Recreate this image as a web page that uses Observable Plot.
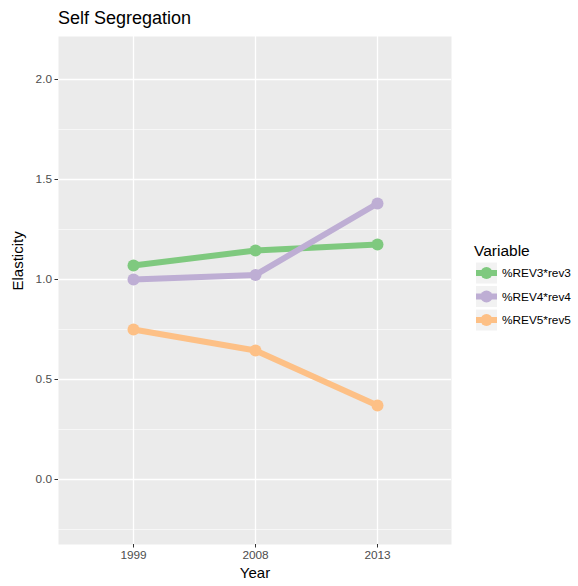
<!DOCTYPE html>
<html>
<head>
<meta charset="utf-8">
<script src="https://cdn.jsdelivr.net/npm/d3@7"></script>
<script src="https://cdn.jsdelivr.net/npm/@observablehq/plot@0.6"></script>
<style>
  body { margin: 0; background: #fff; font-family: "Liberation Sans", Arial, sans-serif; }
  #wrap { position: relative; width: 578px; height: 586px; }
  #title { position: absolute; left: 58px; top: 9px; font-size: 18px; line-height: 18px; color: #000; white-space: nowrap; }
  #legend { position: absolute; left: 0; top: 0; pointer-events: none; }
</style>
</head>
<body>
<div id="wrap">
  <div id="chart"></div>
  <div id="title">Self Segregation</div>
  <svg id="legend" width="578" height="586"></svg>
</div>
<script>
const years = ["1999", "2008", "2013"];
const seriesNames = ["%REV3*rev3", "%REV4*rev4", "%REV5*rev5"];
const rev3 = [1.07, 1.145, 1.175];
const rev4 = [1.0, 1.023, 1.38];
const rev5 = [0.75, 0.645, 0.37];
const colors = ["#7fc97f", "#beaed4", "#fdc086"];
const yTicks = [0, 0.5, 1.0, 1.5, 2.0];
const yMinor = [-0.25, 0.25, 0.75, 1.25, 1.75];

const allSeries = [rev3, rev4, rev5];
const data = [];
seriesNames.forEach((s, i) => years.forEach((y, j) => data.push({series: s, year: y, value: allSeries[i][j]})));

const chart = Plot.plot({
  width: 578,
  height: 586,
  marginLeft: 58,
  marginRight: 127,
  marginTop: 36,
  marginBottom: 42,
  style: {fontFamily: "Liberation Sans, Arial, sans-serif", fontSize: "11.8px", background: "transparent"},
  x: {type: "point", domain: years, padding: 0.6, label: null},
  y: {domain: [-0.325, 2.215], label: null},
  color: {domain: seriesNames, range: colors},
  marks: [
    Plot.frame({fill: "#ebebeb", stroke: null}),
    Plot.ruleY(yMinor, {stroke: "#fff", strokeWidth: 0.6}),
    Plot.ruleY(yTicks, {stroke: "#fff", strokeWidth: 1.3}),
    Plot.ruleX(years, {stroke: "#fff", strokeWidth: 1.3}),
    Plot.line(data, {x: "year", y: "value", stroke: "series", z: "series", strokeWidth: 6, strokeLinecap: "butt"}),
    Plot.dot(data, {x: "year", y: "value", fill: "series", r: 6, stroke: null}),
    Plot.axisY({ticks: yTicks, tickFormat: d3.format(".1f"), tickSize: 3.5, tickPadding: 3, fontSize: 11.8, color: "#4d4d4d", stroke: "#333", label: null}),
    Plot.axisX({tickSize: 3.5, tickPadding: 3, fontSize: 11.8, color: "#4d4d4d", stroke: "#333", label: null}),
    Plot.text(["Year"], {frameAnchor: "bottom", dy: 33, fontSize: 15, fill: "#000"}),
    Plot.text(["Elasticity"], {frameAnchor: "left", dx: -40, rotate: -90, fontSize: 15, fill: "#000"})
  ]
});
document.getElementById("chart").appendChild(chart);

const leg = d3.select("#legend").style("font-family", "Liberation Sans, Arial, sans-serif");
leg.append("text").attr("x", 474).attr("y", 256).attr("font-size", 15.5).attr("fill", "#000").text("Variable");
seriesNames.forEach((s, i) => {
  const cy = 273 + i * 23.5;
  const g = leg.append("g");
  g.append("rect").attr("x", 475.5).attr("y", cy - 11).attr("width", 22).attr("height", 22).attr("fill", "#f2f2f2").attr("stroke", "#fff");
  g.append("line").attr("x1", 476).attr("x2", 497).attr("y1", cy).attr("y2", cy).attr("stroke", colors[i]).attr("stroke-width", 6);
  g.append("circle").attr("cx", 486.5).attr("cy", cy).attr("r", 6).attr("fill", colors[i]);
  g.append("text").attr("x", 502).attr("y", cy).attr("dy", "0.35em").attr("font-size", 11.8).attr("fill", "#000").text(s);
});
</script>
</body>
</html>
